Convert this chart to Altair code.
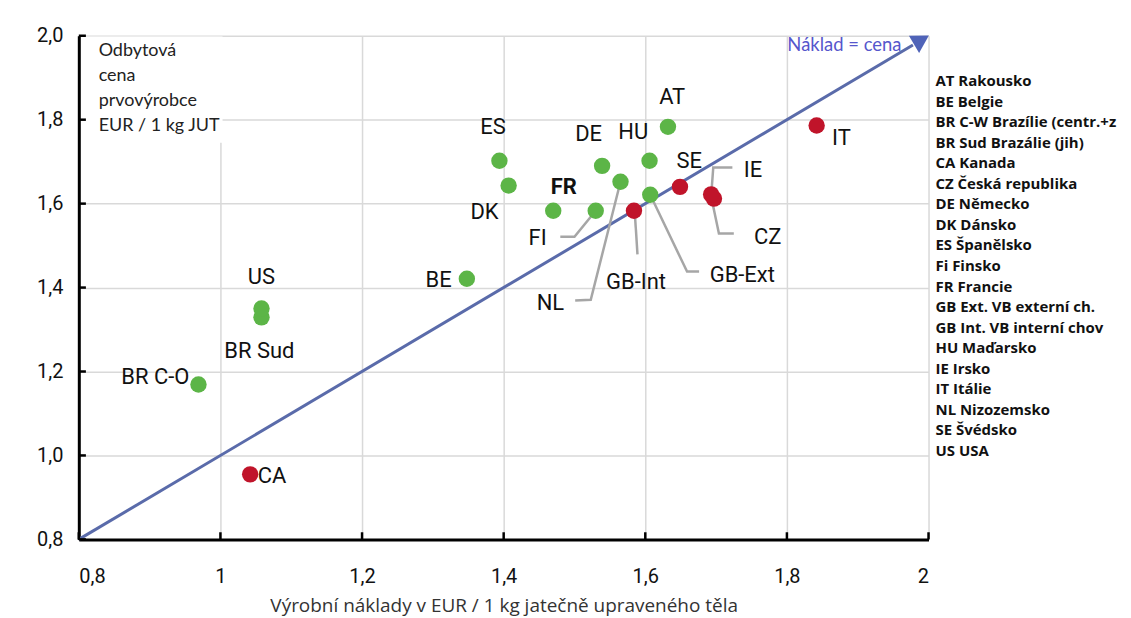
import altair as alt
import pandas as pd

# ---- data ----
codes = ["AT", "BE", "BR C-O", "BR Sud", "CA", "CZ", "DE", "DK", "ES", "FI",
         "FR", "GB-Ext", "GB-Int", "HU", "IE", "IT", "NL", "SE", "US"]
cost = [1.632, 1.348, 0.969, 1.058, 1.042, 1.697, 1.539, 1.407, 1.394, 1.530,
        1.470, 1.607, 1.584, 1.606, 1.693, 1.842, 1.565, 1.649, 1.058]
price = [1.783, 1.421, 1.169, 1.329, 0.955, 1.612, 1.690, 1.643, 1.702, 1.583,
         1.583, 1.621, 1.583, 1.702, 1.622, 1.786, 1.652, 1.640, 1.350]
label_x = [1.638, 1.308, 0.908, 1.055, 1.073, 1.773, 1.520, 1.373, 1.385, 1.448,
           1.485, 1.737, 1.587, 1.583, 1.752, 1.877, 1.466, 1.662, 1.058]
label_y = [1.855, 1.419, 1.186, 1.248, 0.950, 1.521, 1.767, 1.581, 1.783, 1.517,
           1.640, 1.431, 1.414, 1.771, 1.679, 1.757, 1.362, 1.702, 1.424]

leader_group = ["FI"] * 3 + ["NL"] * 3 + ["GB-Int"] * 2 + ["GB-Ext"] * 3 + ["IE"] * 3 + ["CZ"] * 3
leader_x = [1.530, 1.500, 1.480, 1.565, 1.523, 1.501, 1.585, 1.589,
            1.607, 1.659, 1.676, 1.693, 1.696, 1.723, 1.693, 1.704, 1.725]
leader_y = [1.583, 1.521, 1.521, 1.652, 1.371, 1.369, 1.583, 1.479,
            1.621, 1.438, 1.438, 1.617, 1.686, 1.686, 1.617, 1.529, 1.529]

tick_values = [0.8, 1.0, 1.2, 1.4, 1.6, 1.8, 2.0]
diag_values = [0.8, 1.978]
arrow_values = [1.99]

ytitle_lines = ["Odbytová", "cena", "prvovýrobce", "EUR / 1 kg JUT"]
line_label = "Náklad = cena"
x_title = "Výrobní náklady v EUR / 1 kg jatečně upraveného těla"

legend_lines = ["AT Rakousko", "BE Belgie", "BR C-W Brazílie (centr.+záp.",
                "BR Sud  Brazálie (jih)", "CA Kanada", "CZ Česká republika",
                "DE Německo", "DK Dánsko", "ES Španělsko", "Fi Finsko",
                "FR Francie", "GB Ext. VB externí ch.", "GB Int.  VB interní chov",
                "HU Maďarsko", "IE Irsko", "IT Itálie", "NL Nizozemsko",
                "SE Švédsko", "US  USA"]

# ---- styling ----
W, H = 852, 505
COND = "Roboto, sans-serif"
CAL = "Lato, Open Sans, sans-serif"
WIDE = "Open Sans, Lato, sans-serif"
GREEN = "#5CB547"
RED = "#C0142A"
LINE = "#5A6BAA"

xs = alt.Scale(domain=[0.8, 2.0], nice=False, zero=False)
ys = alt.Scale(domain=[0.8, 2.0], nice=False, zero=False)

x_axis = alt.Axis(values=tick_values,
                  labelExpr="replace(format(datum.value, '.2~r'), '.', ',')",
                  title=x_title, ticks=False, grid=True,
                  labelPadding=27, titlePadding=10)
y_axis = alt.Axis(values=tick_values,
                  labelExpr="replace(format(datum.value, '.1f'), '.', ',')",
                  title=None, ticks=False, grid=True, labelPadding=16)


def X(field):
    return alt.X(field, scale=xs, axis=x_axis, title=x_title)


def Y(field):
    return alt.Y(field, scale=ys, axis=y_axis, title=None)


def XD(v):
    return alt.XDatum(v, scale=xs, axis=x_axis, title=x_title)


def YD(v):
    return alt.YDatum(v, scale=ys, axis=y_axis, title=None)


pts = pd.DataFrame(dict(code=codes, cost=cost, price=price, lx=label_x, ly=label_y))
leaders = pd.DataFrame(dict(g=leader_group, cost=leader_x, price=leader_y,
                            o=list(range(len(leader_x)))))
diag = pd.DataFrame(dict(cost=diag_values, price=diag_values))
arrow = pd.DataFrame(dict(cost=arrow_values, price=arrow_values))
ticks_df = pd.DataFrame(dict(v=tick_values))

diag_line = alt.Chart(diag).mark_line(color=LINE, strokeWidth=3).encode(
    x=X("cost:Q"), y=Y("price:Q"))
arrow_head = alt.Chart(arrow).mark_point(
    shape="triangle-up", filled=True, color="#4F63B8", size=400,
    angle=59.3, opacity=1).encode(x=X("cost:Q"), y=Y("price:Q"))
line_text = alt.Chart(arrow).mark_text(
    text=line_label, align="right", baseline="middle", font=CAL, fontSize=18.5,
    color="#5656CC", dx=-20, dy=5).encode(x=X("cost:Q"), y=Y("price:Q"))

# white box behind the y title
box = alt.Chart(arrow).mark_rect(color="white").encode(
    x=XD(0.8035), x2=alt.datum(1.003), y=YD(1.9985), y2=alt.datum(1.745))
ytitle = alt.Chart(arrow).mark_text(
    text=ytitle_lines, align="left", baseline="top", font=CAL, fontSize=18,
    lineHeight=25, color="#222222").encode(x=XD(0.828), y=YD(1.985))

# inward ticks
xticks = alt.Chart(ticks_df).mark_rule(color="black", strokeWidth=2.5).encode(
    x=X("v:Q"), y=YD(0.8), y2=alt.datum(0.817))
yticks = alt.Chart(ticks_df).mark_rule(color="black", strokeWidth=2.5).encode(
    y=Y("v:Q"), x=XD(0.8), x2=alt.datum(0.81))

lead = alt.Chart(leaders).mark_line(color="#A6A6A6", strokeWidth=2.5).encode(
    x=X("cost:Q"), y=Y("price:Q"), detail="g:N", order="o:Q")

dots = alt.Chart(pts).mark_circle(size=270, opacity=1).encode(
    x=X("cost:Q"), y=Y("price:Q"),
    color=alt.condition("datum.price >= datum.cost", alt.value(GREEN), alt.value(RED)))

labels = alt.Chart(pts).transform_filter("datum.code != 'FR'").mark_text(
    font=COND, fontSize=22, color="#111111", align="center", baseline="middle").encode(
    x=X("lx:Q"), y=Y("ly:Q"), text="code:N")
fr_label = alt.Chart(pts).transform_filter("datum.code == 'FR'").mark_text(
    font=COND, fontSize=22, fontWeight="bold", color="#111111",
    align="center", baseline="middle").encode(
    x=X("lx:Q"), y=Y("ly:Q"), text="code:N")

main = alt.layer(
    box, diag_line, lead, dots, arrow_head, line_text, ytitle,
    xticks, yticks, labels, fr_label
).properties(width=W, height=H)

leg = pd.DataFrame(dict(t=legend_lines, i=list(range(len(legend_lines)))))
legend = alt.Chart(leg).mark_text(
    align="left", baseline="middle", font=WIDE, fontWeight="bold",
    fontSize=15, color="#111111", limit=188, ellipsis="\u200b").encode(
    x=alt.value(0),
    y=alt.Y("i:Q", scale=alt.Scale(domain=[-2.2, 22.3], reverse=True,
                                   nice=False, zero=False), axis=None),
    text="t:N",
).properties(width=188, height=H)

chart = alt.hconcat(main, legend, spacing=5).properties(
    padding={"left": 28, "top": 17, "right": 0, "bottom": 2}
).configure_view(stroke=None).configure_axis(
    domainColor="black", domainWidth=3,
    gridColor="#D9D9D9", gridWidth=1.5,
    labelFont=COND, labelFontSize=20, labelColor="#111111",
    titleFont=WIDE, titleFontSize=19, titleFontWeight="normal", titleColor="#333333",
)

chart.save("out.html", embed_options={"renderer": "svg", "actions": False})
